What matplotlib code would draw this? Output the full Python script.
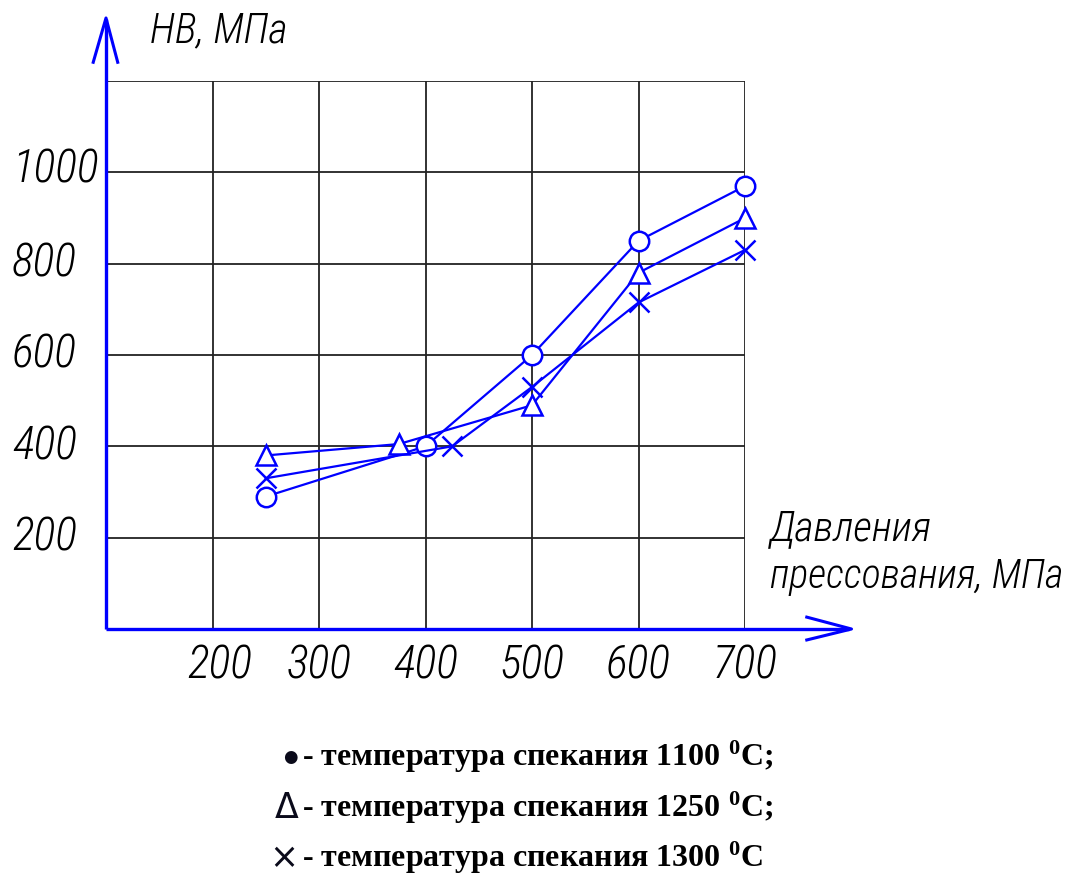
import matplotlib
matplotlib.use("Agg")
import matplotlib.pyplot as plt

# hardness HB vs pressing pressure for three sintering temperatures
x_1100 = [250, 400, 500, 600, 700]
hb_1100 = [290, 400, 600, 850, 970]

x_1250 = [250, 375, 500, 600, 700]
hb_1250 = [380, 405, 490, 780, 900]

x_1300 = [250, 425, 500, 600, 700]
hb_1300 = [330, 400, 530, 715, 830]

x_ticks = [200, 300, 400, 500, 600, 700]
y_ticks = [200, 400, 600, 800, 1000]

legend_lines = [
    ("\u25cf", 12, "- температура спекания 1100 $\\mathbf{^{0}}$C;"),
    ("\u0394", 25, "- температура спекания 1250 $\\mathbf{^{0}}$C;"),
    ("\u00d7", 25, "- температура спекания 1300 $\\mathbf{^{0}}$C"),
]

plt.rcParams["mathtext.fontset"] = "custom"
plt.rcParams["mathtext.bf"] = "Liberation Serif:bold"
plt.rcParams["mathtext.rm"] = "Liberation Serif"

W, H = 1089, 877
fig = plt.figure(figsize=(W / 100, H / 100), dpi=100)
fig.patch.set_facecolor("white")

# plot box in pixels: x 106..745, y 81..629
ax = fig.add_axes([106 / W, 1 - 629 / H, (745 - 106) / W, (629 - 81) / H])
ax.set_xlim(100, 700)
ax.set_ylim(0, 1200)
for s in ax.spines.values():
    s.set_visible(False)
ax.set_xticks([])
ax.set_yticks([])

grid_kw = dict(color="#222222", lw=1.3, zorder=1)
ax.vlines(x_ticks, 0, 1200, **grid_kw)
ax.hlines(y_ticks + [1200], 100, 700, **grid_kw)

blue = "#0000ff"
# axes drawn as lines with open arrowheads
axis_kw = dict(color=blue, lw=2.4, clip_on=False, zorder=3, solid_capstyle="butt")
ax.plot([100, 100], [0, 1336], **axis_kw)
ax.plot([88, 100, 111], [1241, 1338, 1241], color=blue, lw=2.2,
        clip_on=False, zorder=3)
ax.plot([100, 798], [0, 0], **axis_kw)
ax.plot([758, 800, 758], [26, 0, -24], color=blue, lw=2.2,
        clip_on=False, zorder=3)

line_kw = dict(color=blue, lw=1.6, markersize=14, markeredgewidth=1.8,
               markerfacecolor="white", clip_on=False, zorder=4)
ax.plot(x_1100, hb_1100, marker="o", **line_kw)
ax.plot(x_1250, hb_1250, marker="^", **line_kw)
ax.plot(x_1300, hb_1300, marker="x", **line_kw)

gost = dict(family=["Roboto Condensed", "DejaVu Sans"], style="italic",
            weight="light", color="black")

for v in y_ticks:
    ax.text(-0.147, v / 1200 + (0.006 if v == 1000 else 0), str(v),
            transform=ax.transAxes, ha="left", va="center", fontsize=33, **gost)
for v in x_ticks:
    ax.text(v + (7 if v == 200 else 0), -80, str(v), ha="center", va="center",
            fontsize=33, **gost)

fig.text(150 / W, 1 - 31 / H, "НВ, МПа", ha="left", va="center",
         fontsize=30, **gost)
fig.text(770 / W, 1 - 529 / H, "Давления", ha="left", va="center",
         fontsize=30, **gost)
fig.text(770 / W, 1 - 577 / H, "прессования, МПа", ha="left", va="center",
         fontsize=29, **gost)

legend_y = [757, 808, 858]
for (sym, size, txt), py in zip(legend_lines, legend_y):
    fig.text(298 / W, 1 - py / H, sym, ha="right", va="center", fontsize=size,
             family="DejaVu Sans", color="#0a0a1a")
    fig.text(302 / W, 1 - py / H, txt, ha="left", va="center", fontsize=23,
             family="Liberation Serif", weight="bold", color="black")

fig.savefig("out.png", dpi=100)
